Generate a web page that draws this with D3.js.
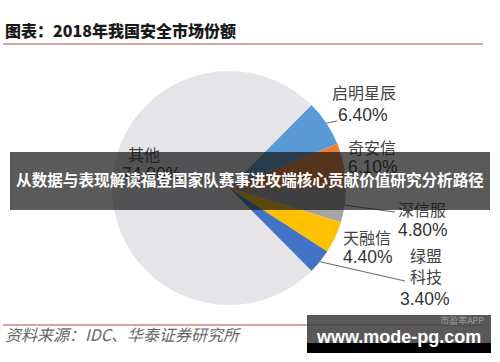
<!DOCTYPE html>
<html><head><meta charset="utf-8">
<script src="https://cdn.jsdelivr.net/npm/d3@7"></script>
<style>
html,body{margin:0;padding:0;background:#fff;}
svg{display:block;}
</style></head>
<body>
<svg id="chart" width="500" height="362"></svg>
<script>
// ---- data ----
const categories = ["启明星辰", "奇安信", "深信服", "天融信", "绿盟科技", "其他"];
const shares = [6.40, 6.10, 4.80, 4.40, 3.40, 74.90];
const valueLabels = ["6.40%", "6.10%", "4.80%", "4.40%", "3.40%", "74.90%"];
const sliceColors = ["#5b9bd5", "#ed7d31", "#a5a5a5", "#ffc000", "#4472c4", "#e5e5e9"];
const titleText = "图表：2018年我国安全市场份额";
const sourceText = "资料来源：IDC、华泰证券研究所";
const bannerText = "从数据与表现解读福登国家队赛事进攻端核心贡献价值研究分析路径";
const watermarkText = "www.mode-pg.com";

const svg = d3.select("#chart");
svg.append("rect").attr("width", 500).attr("height", 362).attr("fill", "#fff");

// title
svg.append("text").attr("x", 5).attr("y", 37)
  .attr("font-family", "'Noto Sans CJK SC', sans-serif").attr("font-weight", 900)
  .attr("font-size", 16).attr("fill", "#1a1a1a").text(titleText);
svg.append("line").attr("x1", 3).attr("x2", 483).attr("y1", 44).attr("y2", 44)
  .attr("stroke", "#c98a78").attr("stroke-width", 1.6);

// pie
const cx = 229, cy = 188, R = 117;
const startA = (44.8 / 180) * Math.PI;
const pie = d3.pie().sort(null).value(d => d).startAngle(startA).endAngle(startA + 2 * Math.PI);
const arcs = pie(shares);
const arc = d3.arc().innerRadius(0).outerRadius(R);
const g = svg.append("g").attr("transform", `translate(${cx},${cy})`);
g.selectAll("path").data(arcs).join("path")
  .attr("d", arc).attr("fill", (d, i) => sliceColors[i]);

// label layout (annotation positions)
const labelLayout = [
  {lines: [[332, 99, 0], [338, 121, 1]], leader: [[337, 121]]},
  {lines: [[348, 154, 0], [348, 173, 1]], leader: null},
  {lines: [[398, 216, 0], [398, 236, 1]], leader: [[395, 212]]},
  {lines: [[343, 244, 0], [343, 263, 1]], leader: null},
  {lines: [[410, 262, 0], [410, 283, 2], [400, 305, 1]], leader: [[405, 281]]},
  {lines: [[128, 161, 0], [122, 180, 1]], leader: null}
];

const lab = svg.append("g");
arcs.forEach((a, i) => {
  const L = labelLayout[i];
  const mid = (a.startAngle + a.endAngle) / 2;
  if (L.leader) {
    const p0 = [cx + R * Math.sin(mid), cy - R * Math.cos(mid)];
    lab.append("polyline")
      .attr("points", [p0].concat(L.leader).map(p => p.join(",")).join(" "))
      .attr("fill", "none").attr("stroke", "#666").attr("stroke-width", 1);
  }
  const name = categories[i];
  L.lines.forEach(([x, y, kind]) => {
    let txt, cjk = true;
    if (kind === 0) txt = (i === 4) ? name.slice(0, 2) : name;
    else if (kind === 2) txt = name.slice(2);
    else { txt = valueLabels[i]; cjk = false; }
    lab.append("text").attr("x", x).attr("y", y)
      .attr("font-family", cjk ? "'Noto Sans CJK SC', sans-serif" : "'Liberation Sans', Arial, sans-serif")
      .attr("font-size", cjk ? 16 : 17.5)
      .attr("fill", cjk ? "#444" : "#333").text(txt);
  });
});

// footer
svg.append("line").attr("x1", 3).attr("x2", 483).attr("y1", 325).attr("y2", 325)
  .attr("stroke", "#c98a78").attr("stroke-width", 1.6);
svg.append("text").attr("x", 5).attr("y", 341)
  .attr("font-family", "'Noto Sans CJK SC', sans-serif").attr("font-style", "italic")
  .attr("font-size", 16).attr("fill", "#666").text(sourceText);

// overlay banner
svg.append("rect").attr("x", 10).attr("y", 152).attr("width", 480).attr("height", 58)
  .attr("fill", "rgba(20,20,20,0.7)");
svg.append("text").attr("x", 250).attr("y", 186).attr("text-anchor", "middle")
  .attr("font-family", "'Noto Sans CJK SC', sans-serif").attr("font-weight", 700)
  .attr("font-size", 15.6).attr("fill", "#fff").text(bannerText);

// watermark box
svg.append("rect").attr("x", 307).attr("y", 315).attr("width", 184).attr("height", 28)
  .attr("fill", "rgba(60,60,60,0.85)");
svg.append("rect").attr("x", 307).attr("y", 343).attr("width", 184).attr("height", 10)
  .attr("fill", "#000");
svg.append("text").attr("x", 484).attr("y", 324).attr("text-anchor", "end")
  .attr("font-family", "'Noto Sans CJK SC', sans-serif").attr("font-size", 9)
  .attr("fill", "#999").text("市盈率APP");
svg.append("text").attr("x", 317).attr("y", 343)
  .attr("font-family", "'Liberation Sans', Arial, sans-serif").attr("font-weight", 700)
  .attr("font-size", 18).attr("fill", "#fff").text(watermarkText);
</script>
</body></html>
